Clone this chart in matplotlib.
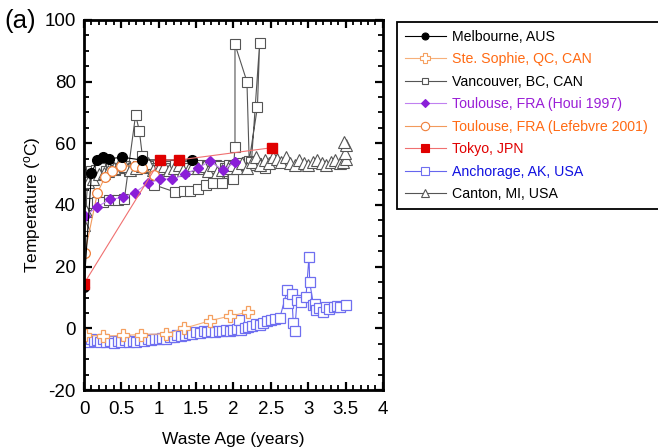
import numpy as np
import matplotlib.pyplot as plt
from matplotlib.ticker import MultipleLocator, FuncFormatter

plt.rcParams['font.family'] = ['Liberation Sans', 'DejaVu Sans']
plt.rcParams['mathtext.fontset'] = 'custom'
plt.rcParams['mathtext.rm'] = 'Liberation Sans'
plt.rcParams['mathtext.it'] = 'Liberation Sans'

# Melbourne, AUS
melb_t = [0.0, 0.10, 0.18, 0.26, 0.34, 0.51, 0.77, 1.45]
melb_T = [13.5, 50.5, 54.6, 55.7, 55.0, 55.5, 54.6, 54.6]

# Ste. Sophie, QC, CAN
soph_t = [0.01, 0.26, 0.52, 0.76, 1.10, 1.34, 1.69, 1.95, 2.19]
soph_T = [-2.2, -2.5, -2.3, -2.0, -1.8, 0.0, 2.5, 4.0, 5.2]

# Vancouver, BC, CAN (band readings)
van_a_t = [0.05, 0.10, 0.16, 0.22, 0.30, 0.36, 0.42, 0.48, 0.55, 0.60, 0.66, 0.72,
           0.80, 0.86, 0.92, 0.98, 1.04, 1.10, 1.16, 1.22, 1.28, 1.34, 1.40, 1.46,
           1.52, 1.58, 1.64, 1.70, 1.76, 1.82, 1.88, 1.94, 2.00, 2.06, 2.12, 2.18,
           2.24, 2.30, 2.36, 2.42]
van_a_T = [50.0, 51.0, 51.5, 52.0, 51.0, 52.0, 51.5, 52.0, 52.5, 51.5, 52.0, 52.5,
           52.0, 52.5, 52.0, 51.5, 52.0, 52.5, 52.0, 53.0, 52.0, 52.5, 52.0, 52.5,
           52.0, 53.0, 52.5, 52.0, 53.0, 52.5, 52.0, 53.0, 52.5, 53.0, 53.5, 54.0,
           53.0, 53.5, 52.5, 52.0]
# Vancouver, BC, CAN (lower branch and spikes)
van_b_t = [0.0, 0.03, 0.10, 0.18, 0.26, 0.34, 0.45, 0.54, 0.69, 0.74, 0.78, 0.94,
           1.22, 1.34, 1.42, 1.52, 1.63, 1.73, 1.85, 1.80, 1.99, 2.02, 2.02, 2.18,
           2.21, 2.32, 2.35, 2.24]
van_b_T = [47.6, 40.0, 40.5, 41.0, 41.0, 41.5, 41.5, 42.0, 69.2, 64.1, 56.0, 46.5,
           44.2, 44.6, 44.6, 45.2, 46.5, 47.2, 47.2, 50.5, 48.3, 58.9, 92.1, 80.0,
           54.3, 71.7, 92.6, 54.0]

# Toulouse, FRA (Houi 1997)
houi_t = [0.01, 0.18, 0.35, 0.52, 0.68, 0.85, 1.02, 1.18, 1.35, 1.52, 1.68, 1.86, 2.02]
houi_T = [36.3, 39.5, 41.8, 42.5, 44.0, 47.0, 48.4, 48.4, 49.9, 51.9, 54.2, 51.3, 53.9]

# Toulouse, FRA (Lefebvre 2001)
lef_t = [0.01, 0.18, 0.28, 0.38, 0.50, 0.68, 0.78, 0.94]
lef_T = [24.3, 44.0, 49.0, 51.0, 52.5, 52.8, 52.0, 49.8]

# Tokyo, JPN
tok_t = [0.0, 1.02, 1.27, 2.52]
tok_T = [14.5, 54.6, 54.6, 58.6]

# Anchorage, AK, USA
anc_t = [0.02, 0.06, 0.10, 0.14, 0.18, 0.22, 0.26, 0.30, 0.35, 0.40, 0.45, 0.50,
         0.55, 0.60, 0.65, 0.70, 0.75, 0.80, 0.85, 0.90, 0.95, 1.00, 1.05, 1.10,
         1.15, 1.20, 1.25, 1.30, 1.35, 1.40, 1.45, 1.50, 1.55, 1.60, 1.65, 1.70,
         1.75, 1.80, 1.85, 1.90, 1.95, 2.00, 2.05, 2.07, 2.10, 2.15, 2.20, 2.25,
         2.30, 2.35, 2.40, 2.45, 2.50, 2.55, 2.62, 2.72, 2.73, 2.78, 2.80, 2.82,
         2.85, 2.90, 2.97, 3.01, 3.02, 3.07, 3.09, 3.11, 3.15, 3.20, 3.24, 3.28,
         3.34, 3.38, 3.43, 3.51]
anc_T = [-3.8, -4.5, -3.5, -4.2, -3.8, -4.3, -3.6, -4.4, -4.0, -4.6, -4.2, -4.4,
         -3.9, -4.5, -4.0, -4.3, -3.7, -4.1, -3.6, -3.9, -3.4, -3.5, -3.0, -3.3,
         -2.7, -2.9, -2.3, -2.5, -2.0, -1.6, -1.9, -1.2, -1.5, -1.0, -1.3, -0.9,
         -1.2, -0.8, -1.0, -0.6, -0.8, -0.4, -0.2, 2.7, -0.5, 0.0, 0.5, 0.9,
         1.3, 1.0, 1.8, 2.3, 2.7, 3.1, 3.4, 12.4, 8.1, 11.1, 1.6, -0.9,
         9.2, 8.5, 10.2, 23.2, 14.9, 7.6, 7.8, 5.9, 6.5, 5.4, 6.9, 6.2,
         7.0, 7.3, 7.0, 7.5]

# Canton, MI, USA
can_t = [0.0, 0.02, 0.05, 0.12, 0.20, 0.27, 0.32, 0.40, 0.48, 0.55, 0.62, 0.70,
         0.78, 0.85, 0.92, 1.00, 1.07, 1.14, 1.20, 1.27, 1.33, 1.40, 1.46, 1.53,
         1.60, 1.66, 1.72, 1.78, 1.85, 1.92, 1.98, 2.05, 2.12, 2.18, 2.25, 2.30,
         2.36, 2.42, 2.48, 2.53, 2.58, 2.64, 2.70, 2.76, 2.82, 2.88, 2.94, 3.00,
         3.06, 3.12, 3.18, 3.24, 3.30, 3.36, 3.42, 3.47, 3.50, 3.49, 3.50, 3.48]
can_T = [33.5, 38.0, 47.6, 48.5, 50.0, 50.3, 51.0, 52.0, 54.0, 52.5, 51.5, 52.0,
         52.5, 53.5, 51.5, 52.0, 52.5, 51.5, 52.0, 53.0, 51.5, 52.0, 53.0, 52.0,
         52.5, 51.0, 53.0, 50.8, 51.5, 52.0, 53.0, 52.0, 53.5, 52.0, 54.0, 55.5,
         53.0, 54.5, 53.5, 55.7, 55.0, 54.0, 55.5, 53.5, 53.0, 54.5, 53.5, 53.0,
         54.0, 54.5, 53.5, 53.0, 54.0, 54.5, 53.5, 54.0, 55.0, 57.0, 59.5, 60.5]

names = ['Melbourne, AUS', 'Ste. Sophie, QC, CAN', 'Vancouver, BC, CAN',
         'Toulouse, FRA (Houi 1997)', 'Toulouse, FRA (Lefebvre 2001)', 'Tokyo, JPN',
         'Anchorage, AK, USA', 'Canton, MI, USA']
text_colors = ['black', '#ff6a13', 'black', '#9a1ed6', '#ff6a13', '#e00000', '#1010e0', 'black']

fig = plt.figure(figsize=(6.58, 4.47), dpi=100)
ax = fig.add_axes([0.1277, 0.1275, 0.4543, 0.8278])

gray = '#555555'
lw = 0.8
ax.plot(van_a_t, van_a_T, color=gray, lw=lw, marker='s', ms=7, mfc='white', mec=gray, mew=0.8)
ax.plot(van_b_t, van_b_T, color=gray, lw=lw, marker='s', ms=7, mfc='white', mec=gray, mew=0.8)
ax.plot(can_t, can_T, color=gray, lw=lw, marker='^', ms=8, mfc='white', mec=gray, mew=0.8)
ax.plot(anc_t, anc_T, color='#6666ee', lw=lw, marker='s', ms=7, mfc='white', mec='#6f6ff0', mew=0.9)
ax.plot(soph_t, soph_T, color='#f7b07a', lw=lw, marker='P', ms=9, mfc='white', mec='#f5a060', mew=0.9)
ax.plot(lef_t, lef_T, color='#f29a5c', lw=lw, marker='o', ms=7, mfc='white', mec='#ef7f3a', mew=0.9)
ax.plot(houi_t, houi_T, color='#c080f0', lw=lw, marker='D', ms=5.5, mfc='#8a1fd8', mec='#8a1fd8')
ax.plot(melb_t, melb_T, color='black', lw=lw, marker='o', ms=7, mfc='black', mec='black')
ax.plot(tok_t, tok_T, color='#f07070', lw=lw, marker='s', ms=7, mfc='#e00000', mec='#e00000')

ax.set_xlim(0, 4)
ax.set_ylim(-20, 100)
ax.xaxis.set_major_locator(MultipleLocator(0.5))
ax.xaxis.set_minor_locator(MultipleLocator(0.1))
ax.yaxis.set_major_locator(MultipleLocator(20))
ax.yaxis.set_minor_locator(MultipleLocator(5))
fmt = FuncFormatter(lambda v, p: '%g' % v)
ax.xaxis.set_major_formatter(fmt)
ax.yaxis.set_major_formatter(fmt)
ax.tick_params(which='both', direction='in', top=True, right=True, labelsize=13.5)
ax.tick_params(which='major', length=6, width=1.6)
ax.tick_params(axis='x', which='major', pad=8)
ax.tick_params(axis='y', which='major', pad=6)
ax.tick_params(which='minor', length=3.5, width=1.3)
for s in ax.spines.values():
    s.set_linewidth(2)

ax.set_xlabel('Waste Age (years)', fontsize=12.5, labelpad=10)
ax.set_ylabel(r'Temperature ($^{\mathrm{o}}$C)', fontsize=12.5, labelpad=1)
fig.text(0.006, 0.953, '(a)', fontsize=18.5, va='center', ha='left')

handle_styles = [
    dict(color='black', marker='o', ms=5, mfc='black', mec='black'),
    dict(color='#f7b07a', marker='P', ms=7, mfc='white', mec='#f5a060'),
    dict(color=gray, marker='s', ms=5, mfc='white', mec=gray),
    dict(color='#c080f0', marker='D', ms=4, mfc='#8a1fd8', mec='#8a1fd8'),
    dict(color='#f29a5c', marker='o', ms=6, mfc='white', mec='#ef7f3a'),
    dict(color='#f07070', marker='s', ms=6, mfc='#e00000', mec='#e00000'),
    dict(color='#6666ee', marker='s', ms=6, mfc='white', mec='#6f6ff0'),
    dict(color=gray, marker='^', ms=6, mfc='white', mec=gray),
]
handles = [plt.Line2D([], [], lw=0.8, mew=0.8, **st) for st in handle_styles]
leg = fig.legend(handles, names, loc='upper left',
                 bbox_to_anchor=(0.6033, 0.3, 0.42, 0.6508), mode='expand',
                 fontsize=10.2, frameon=True, fancybox=False, framealpha=1,
                 edgecolor='black', handlelength=2.9, handletextpad=0.4,
                 labelspacing=0.6, borderpad=0.55, borderaxespad=0)
leg.get_frame().set_linewidth(1.3)
for t, c in zip(leg.get_texts(), text_colors):
    t.set_color(c)

fig.savefig('out.png', dpi=100)
